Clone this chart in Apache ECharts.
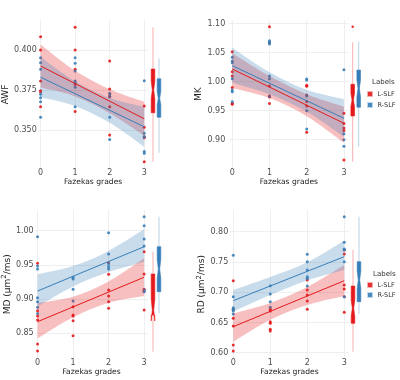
<!DOCTYPE html>
<html><head><meta charset="utf-8">
<script src="https://cdn.jsdelivr.net/npm/echarts@6/dist/echarts.min.js"></script>
<style>html,body{margin:0;padding:0;background:#fff}#c{width:400px;height:380px}</style>
</head><body><div id="c"></div>
<script>
const seriesNames = ['L-SLF', 'R-SLF'];
const xTitle = 'Fazekas grades';
const gradeTicks = [0, 1, 2, 3];
const fitX = [0, 3];
const bandX = [0, 1, 2, 3];

// ---- AWF ----
const awfTicks = [0.350, 0.375, 0.400];
const awfL = [[0,.4083],[0,.4],[0,.3806],[0,.3746],[0,.3738],[0,.3646],[1,.4142],[1,.4],[1,.3879],[1,.3785],[1,.3615],[2,.3931],[2,.3756],[2,.3708],[2,.3646],[2,.3469],[3,.365],[3,.3517],[3,.3458],[3,.3452],[3,.3302]];
const awfR = [[0,.3952],[0,.3921],[0,.3879],[0,.3723],[0,.3702],[0,.3677],[0,.3579],[1,.3952],[1,.3917],[1,.3869],[1,.3806],[1,.3796],[1,.3767],[1,.3646],[2,.373],[2,.372],[2,.371],[2,.358],[2,.344],[3,.3808],[3,.3479],[3,.3458],[3,.3365],[3,.3354]];
const awfFitL = [0.390, 0.357];
const awfFitR = [0.383, 0.352];
const awfLoL = [0.3765, 0.371, 0.3605, 0.3465];
const awfHiL = [0.4035, 0.387, 0.3755, 0.3677];
const awfLoR = [0.3705, 0.365, 0.3545, 0.3395];
const awfHiR = [0.3955, 0.3805, 0.3700, 0.3645];
const awfBoxL = [0.3302, 0.3608, 0.3695, 0.375, 0.3805, 0.3881, 0.4142];
const awfBoxR = [0.3358, 0.358, 0.3656, 0.3698, 0.374, 0.382, 0.3948];
const awfOutL = [];

// ---- MK ----
const mkTicks = [0.90, 0.95, 1.00, 1.05, 1.10];
const mkL = [[0,1.0517],[0,1.0172],[0,1.0098],[0,.990],[0,.9627],[0,.961],[1,1.0948],[1,1.067],[1,.9925],[1,.9753],[1,.9735],[1,.9626],[2,.994],[2,.992],[2,.977],[2,.966],[2,.958],[2,.913],[3,.9455],[3,.928],[3,.920],[3,.916],[3,.865]];
const mkR = [[0,1.042],[0,1.0357],[0,1.0328],[0,1.0052],[0,.9857],[0,.9828],[0,.9655],[1,1.0706],[1,1.068],[1,1.0652],[1,1.0098],[1,1.005],[1,.975],[2,1.0046],[2,1.0029],[2,.9753],[2,.950],[2,.9184],[3,1.0207],[3,.9102],[3,.900],[3,.8886]];
const mkFitL = [1.0219, 0.9283];
const mkFitR = [1.0276, 0.9369];
const mkLoL = [0.9890, 0.9717, 0.9405, 0.8948];
const mkHiL = [1.0490, 1.0097, 0.9785, 0.9570];
const mkLoR = [0.9983, 0.9784, 0.9481, 0.9050];
const mkHiR = [1.0586, 1.0164, 0.9861, 0.9697];
const mkBoxL = [0.862, 0.941, 0.957, 0.9684, 0.980, 0.9955, 1.068];
const mkBoxR = [0.888, 0.956, 0.974, 0.9886, 1.003, 1.02, 1.069];
const mkOutL = [1.0948];

// ---- MD ----
const mdTicks = [0.85, 0.90, 0.95, 1.00];
const mdL = [[0,.9523],[0,.883],[0,.8753],[0,.8694],[0,.8344],[0,.8241],[1,.8889],[1,.8768],[1,.8753],[1,.8684],[1,.8465],[2,.9532],[2,.9363],[2,.9133],[2,.9045],[2,.8962],[2,.8865],[3,.9693],[3,.9367],[3,.9143],[3,.912],[3,.884]];
const mdR = [[0,.9912],[0,.9484],[0,.944],[0,.902],[0,.8962],[0,.888],[0,.879],[1,.9319],[1,.9294],[1,.9143],[1,.8972],[2,.997],[2,.966],[2,.9513],[2,.9474],[2,.944],[3,1.0205],[3,1.0073],[3,.9879],[3,.9776],[3,.9133],[3,.9109]];
const mdFitL = [0.867, 0.9319];
const mdFitR = [0.9118, 0.9766];
const mdLoL = [0.8427, 0.8736, 0.8948, 0.9045];
const mdHiL = [0.8947, 0.9036, 0.9258, 0.9596];
const mdLoR = [0.889, 0.9184, 0.9395, 0.9547];
const mdHiR = [0.9363, 0.9484, 0.9705, 1.002];
const mdBoxL = [0.8231, 0.8768, 0.868, 0.884, 0.900, 0.9367, 0.9693];
const mdBoxR = [0.879, 0.9109, 0.930, 0.944, 0.958, 0.9766, 1.0205];
const mdOutL = [];

// ---- RD ----
const rdTicks = [0.60, 0.65, 0.70, 0.75, 0.80];
const rdL = [[0,.719],[0,.6717],[0,.6569],[0,.6441],[0,.6128],[0,.6028],[1,.6717],[1,.669],[1,.6512],[1,.6485],[1,.6386],[1,.6358],[2,.7202],[2,.7036],[2,.6953],[2,.6855],[2,.6717],[3,.7698],[3,.7631],[3,.7119],[3,.7053],[3,.6926],[3,.6668]];
const rdR = [[0,.761],[0,.6926],[0,.6744],[0,.672],[0,.6689],[0,.664],[1,.7108],[1,.697],[1,.6843],[1,.675],[2,.7626],[2,.7504],[2,.7367],[2,.7256],[2,.723],[2,.7102],[3,.8248],[3,.7825],[3,.7714],[3,.770],[3,.7504],[3,.6926]];
const rdFitL = [0.643, 0.719];
const rdFitR = [0.686, 0.7587];
const rdLoL = [0.618, 0.6543, 0.6787, 0.6937];
const rdHiL = [0.665, 0.6823, 0.7087, 0.745];
const rdLoR = [0.6678, 0.6952, 0.7195, 0.7367];
const rdHiR = [0.7036, 0.7252, 0.7495, 0.7851];
const rdBoxL = [0.6017, 0.6486, 0.660, 0.6734, 0.687, 0.7102, 0.7698];
const rdBoxR = [0.664, 0.6843, 0.706, 0.7202, 0.735, 0.7504, 0.8248];
const rdOutL = [];

const RED = '#E41A1C', BLUE = '#377EB8';
const FONT = 'DejaVu Sans';

const panels = [
  {title:'AWF', grid:{left:30.9, top:20.5, width:117.5, height:148}, boxLeft:150, yMin:0.32594, yMax:0.41844, ticks:awfTicks, dec:3, lm:1, nameGap:22,
   L:awfL, R:awfR, fitL:awfFitL, fitR:awfFitR, loL:awfLoL, hiL:awfHiL, loR:awfLoR, hiR:awfHiR, boxL:awfBoxL, boxR:awfBoxR, outL:awfOutL},
  {title:'MK', grid:{left:229.3, top:20, width:119.1, height:148.5}, boxLeft:349.7, yMin:0.85034, yMax:1.10638, ticks:mkTicks, dec:2, lm:4, nameGap:22,
   L:mkL, R:mkR, fitL:mkFitL, fitR:mkFitR, loL:mkLoL, hiL:mkHiL, loR:mkLoR, hiR:mkHiR, boxL:mkBoxL, boxR:mkBoxR, outL:mkOutL},
  {title:'{t|MD (μm}{s|2}{t|/ms)}', grid:{left:29.3, top:210, width:119.1, height:148.5}, boxLeft:150, yMin:0.81316, yMax:1.03026, ticks:mdTicks, dec:2, lm:1, nameGap:16,
   L:mdL, R:mdR, fitL:mdFitL, fitR:mdFitR, loL:mdLoL, hiL:mdHiL, loR:mdLoR, hiR:mdHiR, boxL:mdBoxL, boxR:mdBoxR, outL:mdOutL},
  {title:'{t|RD (μm}{s|2}{t|/ms)}', grid:{left:230.3, top:210, width:118.4, height:148.5}, boxLeft:350, yMin:0.59041, yMax:0.83587, ticks:rdTicks, dec:2, lm:2, nameGap:19,
   L:rdL, R:rdR, fitL:rdFitL, fitR:rdFitR, loL:rdLoL, hiL:rdHiL, loR:rdLoR, hiR:rdHiR, boxL:rdBoxL, boxR:rdBoxR, outL:rdOutL}
];

function boxRender(params, api) {
  const x = api.value(0);
  const v = [1,2,3,4,5,6,7].map(i => api.value(i));
  const c = api.coord([x, v[0]])[0];
  const y = v.map(val => api.coord([x, val])[1]);
  const hw = 1.8, nw = 0.7;
  const color = api.visual('color');
  const pts = [
    [c-hw, y[5]], [c-hw, y[4]], [c-nw, y[3]], [c-hw, y[2]], [c-hw, y[1]],
    [c+hw, y[1]], [c+hw, y[2]], [c+nw, y[3]], [c+hw, y[4]], [c+hw, y[5]]
  ];
  return {type:'group', children:[
    {type:'line', shape:{x1:c, y1:y[0], x2:c, y2:y[6]}, style:{stroke:color, opacity:0.35, lineWidth:1}},
    {type:'polygon', shape:{points:pts}, style:{fill:color, stroke:color, lineWidth:0.6}}
  ]};
}

// Catmull-Rom style smooth path through pixel points
function smoothSeg(pts, start) {
  let d = start ? 'M' + pts[0][0] + ',' + pts[0][1] : 'L' + pts[0][0] + ',' + pts[0][1];
  for (let i = 0; i < pts.length - 1; i++) {
    const p0 = pts[Math.max(i-1, 0)], p1 = pts[i], p2 = pts[i+1], p3 = pts[Math.min(i+2, pts.length-1)];
    const c1 = [p1[0] + (p2[0]-p0[0])/6, p1[1] + (p2[1]-p0[1])/6];
    const c2 = [p2[0] - (p3[0]-p1[0])/6, p2[1] - (p3[1]-p1[1])/6];
    d += 'C' + c1[0] + ',' + c1[1] + ',' + c2[0] + ',' + c2[1] + ',' + p2[0] + ',' + p2[1];
  }
  return d;
}
function makeBandRender(xs) {
  return function (params, api) {
    if (params.dataIndex !== 0) return null;
    const n = xs.length;
    const up = [], dn = [];
    for (let j = 0; j < n; j++) {
      up.push(api.coord([xs[j], params.context.hi[j]]));
      dn.push(api.coord([xs[n-1-j], params.context.lo[n-1-j]]));
    }
    const d = smoothSeg(up, true) + smoothSeg(dn, false) + 'Z';
    return {type:'path', shape:{pathData:d}, style:{fill:params.context.fill}};
  };
}

const grid = [], xAxis = [], yAxis = [], series = [];
panels.forEach((p, i) => {
  const gm = 2*i, gb = 2*i+1;
  grid.push(Object.assign({containLabel:false}, p.grid));
  grid.push({left:p.boxLeft, top:p.grid.top, width:12, height:p.grid.height});
  xAxis.push({gridIndex:gm, type:'value', min:-0.08, max:3.12,
    axisLine:{show:false}, axisTick:{show:false, customValues:gradeTicks},
    axisLabel:{customValues:gradeTicks, fontSize:8, color:'#4d4d4d', fontFamily:FONT, margin:0.5},
    splitLine:{show:true, lineStyle:{color:'#ebebeb', width:0.8}},
    name:xTitle, nameLocation:'middle', nameGap:8.5,
    nameTextStyle:{fontSize:7.6, color:'#222', fontFamily:FONT}});
  xAxis.push({gridIndex:gb, type:'value', min:0, max:2, show:false});
  yAxis.push({gridIndex:gm, type:'value', min:p.yMin, max:p.yMax,
    axisLine:{show:false}, axisTick:{show:false, customValues:p.ticks},
    axisLabel:{customValues:p.ticks, fontSize:8, color:'#4d4d4d', fontFamily:FONT, margin:p.lm,
      formatter: val => Number(val).toFixed(p.dec)},
    splitLine:{show:true, lineStyle:{color:'#ebebeb', width:0.8}},
    name:p.title, nameLocation:'middle', nameRotate:90, nameGap:p.nameGap,
    nameTextStyle:{fontSize:9, color:'#222', fontFamily:FONT,
      rich:{t:{fontSize:9, fontFamily:FONT, color:'#222'}, s:{fontSize:7, fontFamily:FONT, color:'#222', verticalAlign:'bottom', padding:[0,0,6,0]}}}});
  yAxis.push({gridIndex:gb, type:'value', min:p.yMin, max:p.yMax, show:false});

  const sides = [
    {name:seriesNames[0], color:RED, pts:p.L, fit:p.fitL, lo:p.loL, hi:p.hiL, box:p.boxL, out:p.outL, bx:0.5, fill:'rgba(228,26,28,0.28)'},
    {name:seriesNames[1], color:BLUE, pts:p.R, fit:p.fitR, lo:p.loR, hi:p.hiR, box:p.boxR, out:[], bx:1.5, fill:'rgba(55,126,184,0.27)'}
  ];
  sides.forEach(s => {
    series.push({type:'scatter', name:s.name, xAxisIndex:gm, yAxisIndex:gm, data:s.pts,
      symbolSize:3, itemStyle:{color:s.color, opacity:0.9}, silent:true, z:2});
  });
  sides.forEach((s, k) => {
    const ctx = {lo:s.lo, hi:s.hi, fill:s.fill};
    series.push({type:'custom', name:s.name, xAxisIndex:gm, yAxisIndex:gm,
      renderItem:(params, api) => { params.context.lo = ctx.lo; params.context.hi = ctx.hi; params.context.fill = ctx.fill; return makeBandRender(bandX)(params, api); },
      data:bandX.map((x, j) => [x, s.lo[j], s.hi[j]]), encode:{x:0, y:[1,2]}, silent:true, z:3, clip:true});
    series.push({type:'line', name:s.name, xAxisIndex:gm, yAxisIndex:gm,
      data:fitX.map((x, j) => [x, s.fit[j]]), symbol:'none', lineStyle:{color:s.color, width:1}, itemStyle:{color:s.color}, silent:true, z:3});
    series.push({type:'custom', name:s.name, xAxisIndex:gb, yAxisIndex:gb, renderItem:boxRender,
      data:[[s.bx].concat(s.box)], itemStyle:{color:s.color}, silent:true, z:3,
      encode:{x:0, y:[1,2,3,4,5,6,7]}});
    if (s.out.length) {
      series.push({type:'scatter', name:s.name, xAxisIndex:gb, yAxisIndex:gb,
        data:s.out.map(v => [s.bx, v]), symbolSize:2.5, itemStyle:{color:s.color, opacity:0.9}, silent:true, z:3});
    }
  });
});

const legendItems = [
  {name:seriesNames[0], icon:'rect', itemStyle:{color:RED, borderColor:'#f4b3b4', borderWidth:1}},
  {name:seriesNames[1], icon:'rect', itemStyle:{color:BLUE, borderColor:'#c3d7ea', borderWidth:1}}
];
const legendText = {fontSize:6.5, color:'#333', fontFamily:FONT};

const chart = echarts.init(document.getElementById('c'), null, {renderer:'canvas'});
chart.setOption({
  animation:false,
  backgroundColor:'#ffffff',
  grid, xAxis, yAxis, series,
  legend:[
    {left:367, top:90.5, orient:'vertical', itemWidth:5, itemHeight:5, itemGap:4, padding:0, selectedMode:false, data:legendItems, textStyle:legendText},
    {left:367, top:281.5, orient:'vertical', itemWidth:5, itemHeight:5, itemGap:3, padding:0, selectedMode:false, data:legendItems, textStyle:legendText}
  ],
  graphic:[
    {type:'text', left:372, top:79, style:{text:'Labels', fontSize:7, fill:'#333', fontFamily:FONT}},
    {type:'text', left:373, top:271, style:{text:'Labels', fontSize:7, fill:'#333', fontFamily:FONT}}
  ]
});
</script></body></html>
